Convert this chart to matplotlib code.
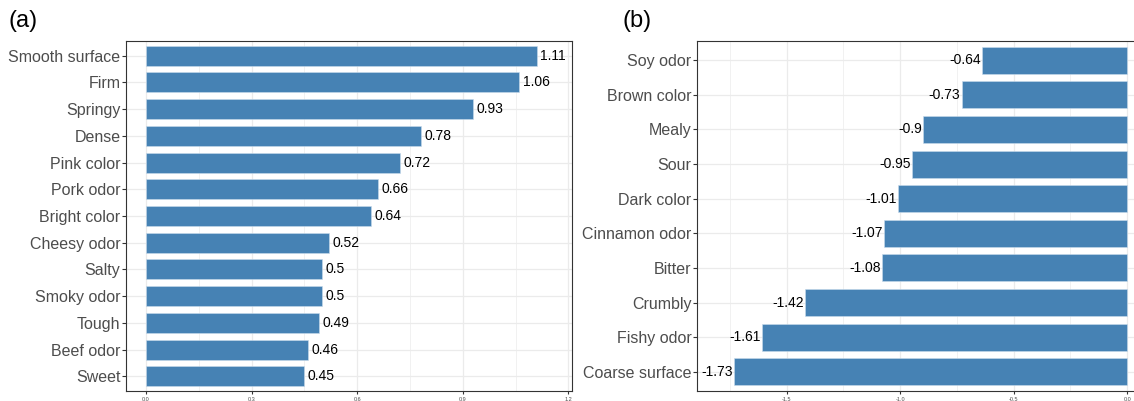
import matplotlib.pyplot as plt
import numpy as np
from matplotlib.ticker import MultipleLocator

plt.rcParams["font.family"] = ["Liberation Sans", "DejaVu Sans"]

# panel (a) - positive attributes
pos_labels = ["Smooth surface", "Firm", "Springy", "Dense", "Pink color", "Pork odor",
              "Bright color", "Cheesy odor", "Salty", "Smoky odor", "Tough", "Beef odor", "Sweet"]
pos_values = [1.11, 1.06, 0.93, 0.78, 0.72, 0.66, 0.64, 0.52, 0.5, 0.5, 0.49, 0.46, 0.45]

# panel (b) - negative attributes
neg_labels = ["Soy odor", "Brown color", "Mealy", "Sour", "Dark color", "Cinnamon odor",
              "Bitter", "Crumbly", "Fishy odor", "Coarse surface"]
neg_values = [-0.64, -0.73, -0.9, -0.95, -1.01, -1.07, -1.08, -1.42, -1.61, -1.73]

BAR = "#4682B4"
GRID = "#EBEBEB"

fig = plt.figure(figsize=(11.34, 4.01), dpi=100)
ax1 = fig.add_axes([126 / 1134, 10 / 401, 446 / 1134, 350 / 401])
ax2 = fig.add_axes([697 / 1134, 10 / 401, 445 / 1134, 350 / 401])


def style(ax, labels):
    n = len(labels)
    ax.set_ylim(n - 0.45, -0.55)
    ax.set_yticks(np.arange(n))
    ax.set_yticklabels(labels, fontsize=11.5, color="#4D4D4D")
    ax.tick_params(axis="y", length=3, color="#333333", pad=1)
    ax.tick_params(axis="x", labelsize=4, labelcolor="#4D4D4D", length=2, color="#333333", pad=2)
    ax.grid(True, which="major", color=GRID, linewidth=0.9)
    ax.grid(True, which="minor", axis="x", color=GRID, linewidth=0.5)
    ax.tick_params(which="minor", length=0)
    ax.set_axisbelow(True)
    for s in ax.spines.values():
        s.set_color("#333333")
        s.set_linewidth(0.8)


# (a)
y1 = np.arange(len(pos_labels))
ax1.barh(y1, pos_values, height=0.75, color=BAR, edgecolor="#C9DBEB", linewidth=0.4)
for yy, v in zip(y1, pos_values):
    ax1.text(v + 0.01, yy, f"{v:g}", va="center", ha="left", fontsize=10, color="black")
ax1.set_xlim(-0.057, 1.21)
ax1.set_xticks([0.0, 0.3, 0.6, 0.9, 1.2])
ax1.set_xticklabels(["0.0", "0.3", "0.6", "0.9", "1.2"])
ax1.xaxis.set_minor_locator(MultipleLocator(0.15))
style(ax1, pos_labels)

# (b)
y2 = np.arange(len(neg_labels))
ax2.barh(y2, neg_values, height=0.78, color=BAR, edgecolor="#C9DBEB", linewidth=0.4)
for yy, v in zip(y2, neg_values):
    ax2.text(v - 0.005, yy, f"{v:g}", va="center", ha="right", fontsize=10, color="black")
ax2.set_xlim(-1.895, 0.065)
ax2.set_xticks([-1.5, -1.0, -0.5, 0.0])
ax2.set_xticklabels(["-1.5", "-1.0", "-0.5", "0.0"])
ax2.xaxis.set_minor_locator(MultipleLocator(0.25))
style(ax2, neg_labels)

fig.text(8 / 1134, 1 - 21 / 401, "(a)", fontsize=17, va="center", ha="left")
fig.text(622 / 1134, 1 - 21 / 401, "(b)", fontsize=17, va="center", ha="left")

fig.savefig("out.png", dpi=100)
